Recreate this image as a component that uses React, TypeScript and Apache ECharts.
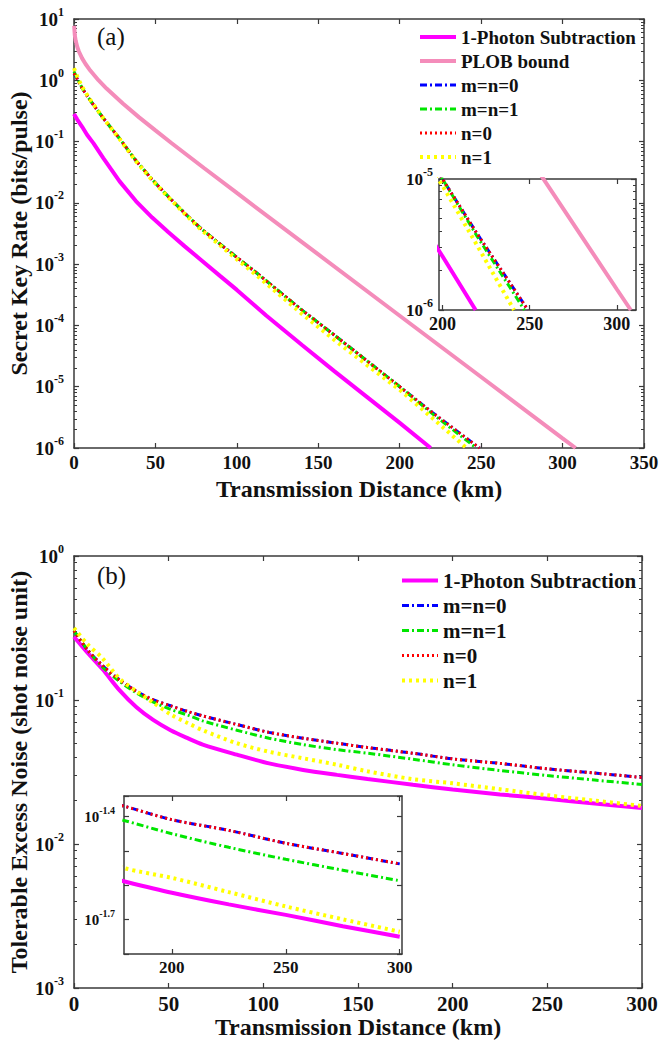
import React, { useEffect, useRef } from 'react';
import * as echarts from 'echarts';

// ---------- Panel (a): secret key rate (bits/pulse) vs distance (km) ----------
const kmA_PLOB = [0.1, 0.5, 1, 2, 3, 5, 7, 10, 15, 20, 30, 40, 50, 60, 80, 100, 150, 200, 250, 300, 308];
const rateA_PLOB = [7.76, 5.46, 4.47, 3.51, 2.95, 2.28, 1.86, 1.44, 1.003, 0.732, 0.417, 0.248, 0.152, 0.094, 0.0367, 0.0145, 1.44e-3, 1.44e-4, 1.44e-5, 1.44e-6, 1.0e-6];

const kmA_1PS = [0, 2, 5, 8, 12, 18, 28, 38, 48, 58, 68, 78, 90, 100, 118, 140, 160, 180, 200, 219];
const rateA_1PS = [0.282, 0.229, 0.174, 0.129, 0.0933, 0.0537, 0.0224, 0.0107, 5.75e-3, 3.31e-3, 1.95e-3, 1.17e-3, 6.31e-4, 3.8e-4, 1.45e-4, 4.79e-5, 1.78e-5, 6.76e-6, 2.57e-6, 1.0e-6];

const kmA_mn0 = [0, 2, 5, 10, 18, 28, 38, 48, 58, 68, 78, 90, 100, 112, 139, 160, 180, 200, 220, 249];
const rateA_mn0 = [1.3, 1.05, 0.741, 0.468, 0.24, 0.112, 0.049, 0.024, 0.0126, 6.76e-3, 3.8e-3, 2.09e-3, 1.29e-3, 7.24e-4, 1.86e-4, 6.92e-5, 2.63e-5, 1.0e-5, 3.8e-6, 1.0e-6];

const kmA_mn1 = [0, 2, 5, 10, 18, 28, 38, 48, 58, 68, 78, 90, 100, 112, 139, 160, 180, 200, 220, 247];
const rateA_mn1 = [1.38, 1.07, 0.75, 0.47, 0.24, 0.112, 0.049, 0.024, 0.0126, 6.76e-3, 3.8e-3, 2.09e-3, 1.29e-3, 7.24e-4, 1.86e-4, 6.92e-5, 2.63e-5, 1.0e-5, 3.63e-6, 1.0e-6];

const kmA_n0 = [0, 2, 5, 10, 18, 28, 38, 48, 58, 68, 78, 90, 100, 112, 139, 160, 180, 200, 220, 249];
const rateA_n0 = [1.3, 1.05, 0.741, 0.468, 0.24, 0.112, 0.049, 0.024, 0.0126, 6.76e-3, 3.8e-3, 2.09e-3, 1.29e-3, 7.24e-4, 1.86e-4, 6.92e-5, 2.63e-5, 1.0e-5, 3.8e-6, 1.0e-6];

const kmA_n1 = [0, 2, 5, 10, 18, 28, 38, 48, 58, 68, 78, 90, 100, 112, 139, 160, 180, 200, 220, 241];
const rateA_n1 = [1.58, 1.15, 0.776, 0.479, 0.24, 0.11, 0.0479, 0.0234, 0.0123, 6.61e-3, 3.63e-3, 2.0e-3, 1.2e-3, 6.61e-4, 1.62e-4, 5.75e-5, 2.24e-5, 8.91e-6, 3.09e-6, 1.0e-6];

// ---------- Panel (b): tolerable excess noise (SNU) vs distance (km) ----------
const kmB = [0, 7, 15, 24, 33, 42, 51, 60, 68, 86, 103, 121, 139, 155, 179, 200, 225, 250, 275, 300];
const noiseB_1PS = [0.275, 0.214, 0.164, 0.117, 0.0891, 0.0724, 0.0617, 0.0543, 0.049, 0.0417, 0.0363, 0.0327, 0.0302, 0.0283, 0.0258, 0.0239, 0.0221, 0.0206, 0.0191, 0.0178];
const noiseB_mn0 = [0.302, 0.224, 0.174, 0.138, 0.115, 0.1, 0.0912, 0.0832, 0.0776, 0.0676, 0.0596, 0.0543, 0.0501, 0.0468, 0.0427, 0.039, 0.0363, 0.0333, 0.0311, 0.029];
const noiseB_mn1 = [0.302, 0.224, 0.17, 0.135, 0.112, 0.0966, 0.0861, 0.0785, 0.0716, 0.0617, 0.0543, 0.049, 0.0452, 0.0427, 0.0388, 0.0355, 0.0324, 0.0299, 0.0278, 0.0259];
const noiseB_n0 = [0.302, 0.224, 0.174, 0.138, 0.115, 0.1, 0.0912, 0.0832, 0.0776, 0.0676, 0.0596, 0.0543, 0.0501, 0.0468, 0.0427, 0.039, 0.0363, 0.0333, 0.0311, 0.029];
const noiseB_n1 = [0.316, 0.245, 0.195, 0.141, 0.115, 0.0955, 0.0794, 0.0692, 0.0617, 0.0501, 0.0437, 0.0394, 0.0355, 0.032, 0.0282, 0.0264, 0.024, 0.0218, 0.02, 0.0184];

const NAMES_A = ['1-Photon Subtraction', 'PLOB bound', 'm=n=0', 'm=n=1', 'n=0', 'n=1'];
const NAMES_B = ['1-Photon Subtraction', 'm=n=0', 'm=n=1', 'n=0', 'n=1'];
const INSET_A_TICKS = [200, 250, 300];
const INSET_B_TICKS = [200, 250, 300];

const SERIF = "'Liberation Serif', 'Times New Roman', serif";
const INK = '#111111';
const AXIS = '#3a3a3a';

const STYLE: Record<string, any> = {
  '1-Photon Subtraction': { color: '#ff00ff', width: 4, type: 'solid' },
  'PLOB bound': { color: '#f48cba', width: 4, type: 'solid' },
  'm=n=0': { color: '#0000ff', width: 3, type: [7, 3, 2, 3] },
  'm=n=1': { color: '#00e600', width: 3, type: [7, 3, 2, 3] },
  'n=0': { color: '#ff0000', width: 3, type: [2, 3] },
  'n=1': { color: '#ffff00', width: 4, type: [3, 4] },
};

const pairs = (xs: number[], ys: number[]) => xs.map((x, i) => [x, ys[i]]);

function logLabel(size: number, sup: number, margin: number, filter?: (e: number) => boolean) {
  return {
    show: true,
    margin,
    formatter: (v: number) => {
      const e = Math.round(Math.log10(v) * 10) / 10;
      if (filter && !filter(e)) return '';
      return `{b|10}{s|${e}}`;
    },
    rich: {
      b: { fontSize: size, fontWeight: 'bold', fontFamily: SERIF, color: INK, lineHeight: size },
      s: { fontSize: sup, fontWeight: 'bold', fontFamily: SERIF, color: INK, lineHeight: sup, padding: [0, 0, Math.round(size * 0.8), 0] },
    },
  };
}

const axisLine = { show: true, onZero: false, lineStyle: { color: AXIS, width: 1.5 } };
const tick = (len: number, extra: any = {}) => ({ show: true, inside: true, length: len, lineStyle: { color: AXIS, width: 1.2 }, ...extra });
const minor = { show: true, splitNumber: 9, length: 3, lineStyle: { color: AXIS, width: 1 } };

function xPair(gridIndex: number, min: number, max: number, label: any, extra: any = {}, tickExtra: any = {}) {
  const base = { type: 'value', gridIndex, min, max, axisLine, splitLine: { show: false }, nameMoveOverlap: false, ...extra };
  return [
    { ...base, position: 'bottom', axisTick: tick(5, tickExtra), axisLabel: label },
    { ...base, position: 'top', name: '', axisTick: tick(5, tickExtra), axisLabel: { show: false } },
  ];
}

function yPair(gridIndex: number, min: number, max: number, interval: number, label: any, extra: any = {}, withMinor = true) {
  const base = { type: 'log', logBase: 10, gridIndex, min, max, interval, axisLine, splitLine: { show: false }, nameMoveOverlap: false, ...extra };
  return [
    { ...base, position: 'left', axisTick: tick(5), minorTick: withMinor ? minor : { show: false }, axisLabel: label },
    { ...base, position: 'right', name: '', axisTick: tick(5), minorTick: withMinor ? minor : { show: false }, axisLabel: { show: false } },
  ];
}

const xLabel = (size: number, margin: number, extra: any = {}) => ({
  show: true, margin, fontSize: size, fontWeight: 'bold', fontFamily: SERIF, color: INK, ...extra,
});

const nameStyle = { fontSize: 24, fontWeight: 'bold', fontFamily: SERIF, color: INK };

function line(name: string, data: number[][], axis: number, smooth: number | boolean = false) {
  const st = STYLE[name];
  return {
    type: 'line', name, xAxisIndex: axis, yAxisIndex: axis, data,
    showSymbol: false, symbol: 'none', smooth, silent: true, clip: true,
    color: st.color, itemStyle: { color: st.color },
    lineStyle: { color: st.color, width: st.width, type: st.type, cap: 'butt' },
  };
}

const seriesA = (axis: number) => [
  line('1-Photon Subtraction', pairs(kmA_1PS, rateA_1PS), axis),
  line('PLOB bound', pairs(kmA_PLOB, rateA_PLOB), axis),
  line('m=n=0', pairs(kmA_mn0, rateA_mn0), axis),
  line('m=n=1', pairs(kmA_mn1, rateA_mn1), axis),
  line('n=0', pairs(kmA_n0, rateA_n0), axis),
  line('n=1', pairs(kmA_n1, rateA_n1), axis),
];

const seriesB = (axis: number) => [
  line('1-Photon Subtraction', pairs(kmB, noiseB_1PS), axis, 0.3),
  line('m=n=0', pairs(kmB, noiseB_mn0), axis, 0.3),
  line('m=n=1', pairs(kmB, noiseB_mn1), axis, 0.3),
  line('n=0', pairs(kmB, noiseB_n0), axis, 0.3),
  line('n=1', pairs(kmB, noiseB_n1), axis, 0.3),
];

function legend(names: string[], left: number, top: number, size: number, rowH: number) {
  return {
    orient: 'vertical', left, top, padding: 0, itemWidth: 36, itemHeight: rowH, itemGap: 4,
    data: names, selectedMode: false,
    itemStyle: { opacity: 0 },
    lineStyle: { width: 'inherit' },
    textStyle: { fontSize: size, fontWeight: 'bold', fontFamily: SERIF, color: INK, lineHeight: rowH },
  };
}

const gridBase = { containLabel: false, outerBoundsMode: 'none' };

const option: any = {
  animation: false,
  backgroundColor: '#ffffff',
  grid: [
    { ...gridBase, left: 74, top: 19, width: 570, height: 429 },
    { ...gridBase, left: 439, top: 179, width: 197, height: 131, show: true, backgroundColor: '#ffffff', borderWidth: 0 },
    { ...gridBase, left: 74, top: 556, width: 568, height: 432 },
    { ...gridBase, left: 124, top: 796, width: 278, height: 158, show: true, backgroundColor: '#ffffff', borderWidth: 0 },
  ],
  xAxis: [
    ...xPair(0, 0, 350, xLabel(19, 5), { interval: 50, name: 'Transmission Distance (km)', nameLocation: 'middle', nameGap: 29, nameTextStyle: nameStyle }),
    ...xPair(1, 198, 311, xLabel(18, 5, { customValues: INSET_A_TICKS }), {}, { customValues: INSET_A_TICKS }),
    ...xPair(2, 0, 300, xLabel(21, 5), { interval: 50, name: 'Transmission Distance (km)', nameLocation: 'middle', nameGap: 27, nameTextStyle: nameStyle }),
    ...xPair(3, 179, 301, xLabel(17, 5, { customValues: INSET_B_TICKS }), {}, { customValues: INSET_B_TICKS }),
  ],
  yAxis: [
    ...yPair(0, 1e-6, 10, 1, logLabel(19, 12, 10), { name: 'Secret Key Rate (bits/pulse)', nameLocation: 'middle', nameGap: 43, nameTextStyle: nameStyle }),
    ...yPair(1, 1e-6, 1e-5, 1, logLabel(17, 12, 6)),
    ...yPair(2, 1e-3, 1, 1, logLabel(19, 12, 10), { name: 'Tolerable Excess Noise (shot noise unit)', nameLocation: 'middle', nameGap: 43, nameTextStyle: nameStyle }),
    ...yPair(3, Math.pow(10, -1.8), Math.pow(10, -1.34), 0.1, logLabel(15, 10, 9, (e) => e === -1.4 || e === -1.7), {}, false),
  ],
  legend: [legend(NAMES_A, 418, 27, 19, 20), legend(NAMES_B, 400, 570, 21, 21)],
  graphic: [
    { type: 'text', x: 97, y: 24, style: { text: '(a)', fontSize: 25, fontFamily: SERIF, fill: INK } },
    { type: 'text', x: 97, y: 563, style: { text: '(b)', fontSize: 25, fontFamily: SERIF, fill: INK } },
  ],
  series: [...seriesA(0), ...seriesA(2), ...seriesB(4), ...seriesB(6)],
};

export default function App() {
  const ref = useRef<HTMLDivElement>(null);
  useEffect(() => {
    if (!ref.current) return;
    const chart = echarts.init(ref.current, null, { renderer: 'svg' });
    chart.setOption(option);
    return () => chart.dispose();
  }, []);
  return (
    <div
      ref={ref}
      style={{ position: 'absolute', left: 0, top: 0, width: 661, height: 1042, background: '#fff' }}
    />
  );
}
